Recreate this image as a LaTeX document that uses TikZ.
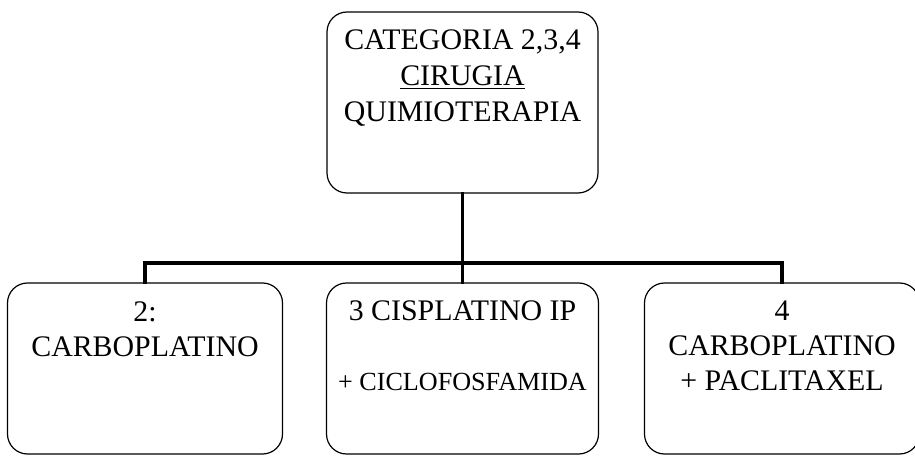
\documentclass[tikz,border=0pt]{standalone}
\usepackage{fontspec}
\setmainfont{Liberation Serif}
\usetikzlibrary{positioning}

\tikzset{
	box/.style={draw, line width=0.9pt, rounded corners=15pt, inner sep=0pt},
	boxtext/.style={anchor=base, align=center, inner sep=0pt, font=\fontsize{22.4}{27}\selectfont},
	conn/.style={line width=2.9pt, line join=miter, line cap=rect}
}

\begin{document}
\begin{tikzpicture}[x=0.75pt, y=-0.75pt]
		\useasboundingbox (0,0) rectangle (915,456);
		
		%boxes
		\node[box, minimum width=203.25pt, minimum height=135.75pt] (top) at (462.5,102.5) {};
		\node[box, minimum width=206.25pt, minimum height=128.25pt] (left) at (145,368.5) {};
		\node[box, minimum width=204pt, minimum height=128.25pt] (mid) at (462.5,368.5) {};
		\node[box, minimum width=206.25pt, minimum height=128.25pt] (right) at (782,368.5) {};
		
		%box texts (anchored at the baseline of the last line)
		\node[boxtext] (topText) at (462.5,122) {CATEGORIA 2,3,4\\\underline{CIRUGIA}\\QUIMIOTERAPIA};
		\node[boxtext] (leftText) at (145,357) {2:\\CARBOPLATINO};
		\node[boxtext] (midText) at (462.5,390) {3 CISPLATINO IP\\[25.5pt]{\fontsize{19.6}{27}\selectfont + CICLOFOSFAMIDA}};
		\node[boxtext, font=\fontsize{22.4}{26.25}\selectfont] (rightText) at (782,390) {4\\CARBOPLATINO\\+ PACLITAXEL};
		
		%connectors
		\coordinate (bar) at (462.5,263);
		\draw[conn] (top.south) -- (mid.north);
		\draw[conn] (left.north) -- (left.north |- bar) -- (right.north |- bar) -- (right.north);
	
	\end{tikzpicture}
\end{document}
